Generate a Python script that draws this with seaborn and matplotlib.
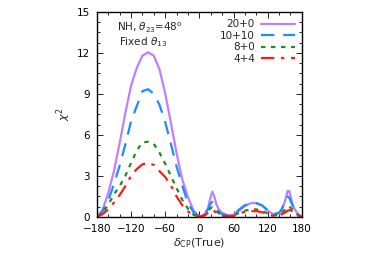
import numpy as np
import pandas as pd
import seaborn as sns
import matplotlib
matplotlib.use("Agg")
from matplotlib import pyplot as plt
from matplotlib.ticker import MultipleLocator

sns.set_style("ticks")
plt.rcParams['font.family'] = ['DejaVu Sans']

# delta_CP (true) grid, degrees
delta = [-180, -170, -160, -150, -140, -130, -120, -110, -100, -90, -80, -70,
         -60, -50, -40, -30, -20, -10, 0, 5, 10, 15, 20, 23, 27, 30, 35, 40,
         50, 60, 70, 80, 90, 100, 110, 120, 130, 140, 145, 150, 155, 158,
         162, 165, 170, 175, 180]

chi_20_0 = [0, 0.5, 1.75, 3.35, 5.4, 7.6, 9.6, 10.9, 11.8, 12.05, 11.8, 10.8,
            9.05, 6.9, 4.67, 2.75, 1.45, 0.45, 0.03, 0.1, 0.25, 0.6, 1.5, 1.85, 1.4, 0.9, 0.5, 0.3,
            0.12, 0.15, 0.45, 0.8, 1.0, 1.02, 0.85, 0.45, 0.2, 0.25, 0.5, 1.1, 1.9, 1.9,
            1.2, 0.75, 0.4, 0.15, 0]
chi_10_10 = [0, 0.42, 1.2, 2.4, 3.75, 5.3, 7.0, 8.1, 9.2, 9.35, 9.0, 8.2,
             6.95, 5.35, 3.68, 2.3, 1.0, 0.33, 0.02, 0.08, 0.2, 0.55, 1.0, 1.1, 0.8, 0.55, 0.35, 0.2,
             0.08, 0.15, 0.55, 0.85, 1.0, 1.0, 0.85, 0.5, 0.2, 0.3, 0.6, 1.1, 1.5, 1.4,
             1.0, 0.7, 0.35, 0.12, 0]
chi_8_0 = [0, 0.3, 0.88, 1.65, 2.25, 3.0, 3.95, 4.85, 5.45, 5.5, 5.35, 4.7,
           3.9, 3.0, 2.1, 1.25, 0.6, 0.15, 0.02, 0.06, 0.15, 0.4, 0.65, 0.7, 0.55, 0.4, 0.25, 0.15,
           0.05, 0.1, 0.3, 0.45, 0.55, 0.55, 0.45, 0.25, 0.1, 0.15, 0.3, 0.5, 0.75, 0.75,
           0.6, 0.5, 0.25, 0.08, 0]
chi_4_4 = [0, 0.2, 0.55, 1.05, 1.6, 2.25, 3.0, 3.5, 3.85, 3.95, 3.8, 3.35,
           2.92, 2.3, 1.5, 0.85, 0.4, 0.08, 0.02, 0.05, 0.12, 0.3, 0.48, 0.5, 0.4, 0.3, 0.18, 0.1,
           0.03, 0.08, 0.25, 0.38, 0.42, 0.42, 0.35, 0.2, 0.08, 0.1, 0.2, 0.3, 0.45, 0.5,
           0.45, 0.35, 0.18, 0.05, 0]

labels = ['20+0', '10+10', '8+0', '4+4']
series = [chi_20_0, chi_10_10, chi_8_0, chi_4_4]
colors = ['#bf80ff', '#1e8cff', '#228b22', '#ff1a1a']
styles = [dict(linestyle='-'),
          dict(linestyle=(0, (6, 4))),
          dict(linestyle=(0, (2, 2.5))),
          dict(linestyle=(0, (6, 3, 1.5, 3)))]

fig = plt.figure(figsize=(3.74, 2.61), dpi=100)
ax = fig.add_axes([0.259, 0.169, 0.548, 0.785])

for lab, ys, c, st in zip(labels, series, colors, styles):
    sns.lineplot(x=delta, y=ys, ax=ax, color=c, lw=1.6, label=lab, **st)

ax.set_xlim(-180, 180)
ax.set_ylim(0, 15)
ax.xaxis.set_major_locator(MultipleLocator(60))
ax.xaxis.set_minor_locator(MultipleLocator(20))
ax.yaxis.set_major_locator(MultipleLocator(3))
ax.yaxis.set_minor_locator(MultipleLocator(0.75))
ax.tick_params(which='both', direction='in', top=True, right=True,
               labelsize=7.5, colors='black', width=0.6)
ax.tick_params(which='major', length=4, pad=5)
ax.tick_params(which='minor', length=2)
for sp in ax.spines.values():
    sp.set_color('black')
    sp.set_linewidth(1.0)

ax.set_xlabel(r'$\delta_{\rm CP}$(True)', fontsize=8, labelpad=2)
ax.set_ylabel(r'$\chi^2$', fontsize=8, labelpad=3)

ax.text(0.1, 0.955, r'NH, $\theta_{23}$=48$^{\rm o}$', transform=ax.transAxes,
        fontsize=7.5, va='top', ha='left')
ax.text(0.11, 0.885, r'Fixed $\theta_{13}$', transform=ax.transAxes,
        fontsize=7.5, va='top', ha='left')

leg = ax.legend(loc='upper right', markerfirst=False, frameon=False,
                fontsize=7.5, handlelength=3.2, handletextpad=0.6,
                labelspacing=0.15, borderaxespad=0.3)
for t in leg.get_texts():
    t.set_ha('right')

fig.savefig('out.png', dpi=100)
